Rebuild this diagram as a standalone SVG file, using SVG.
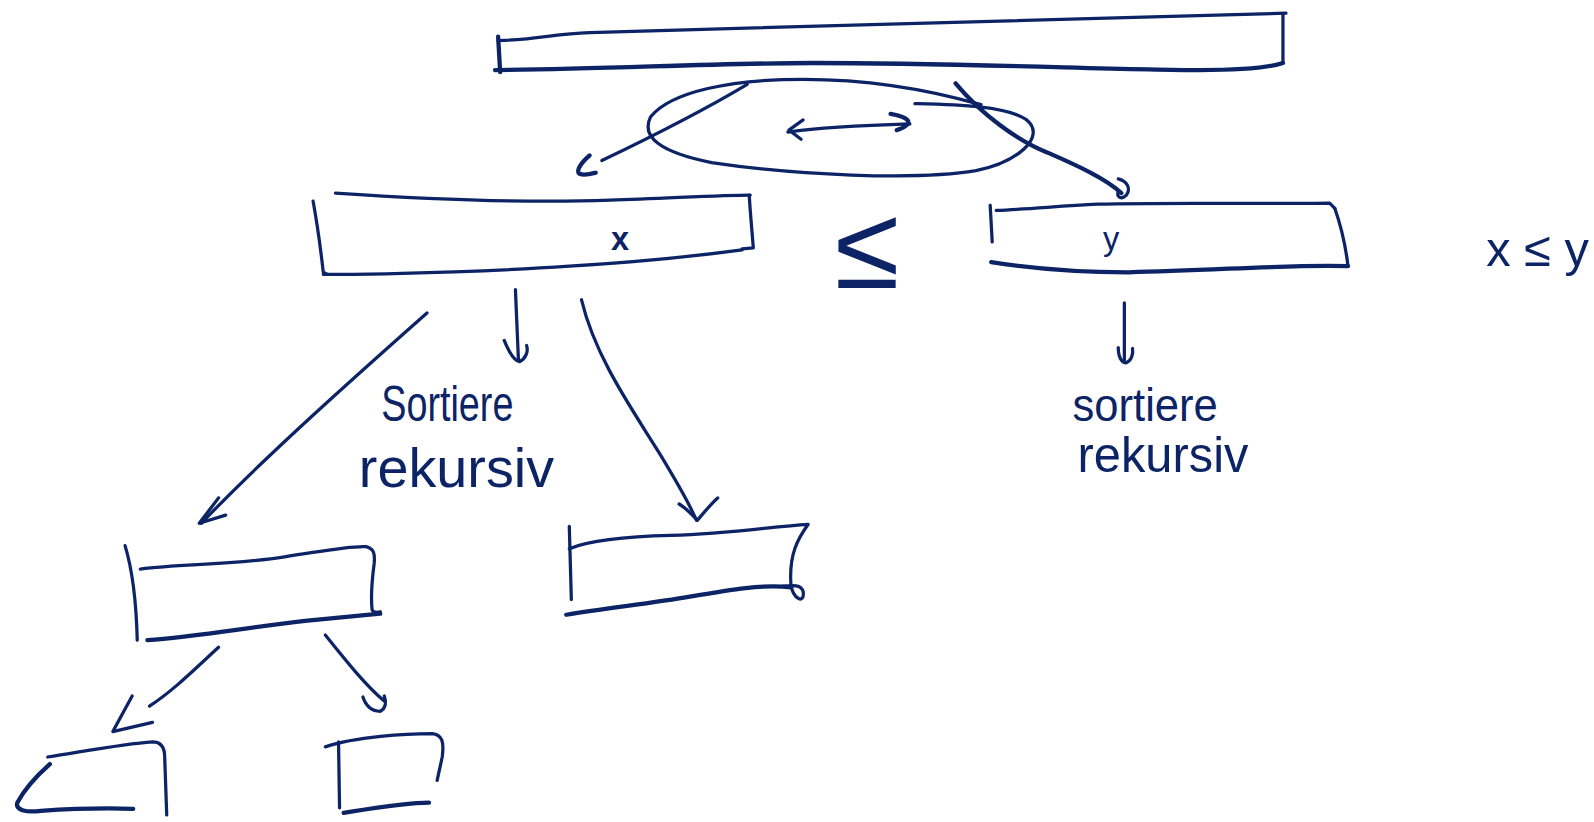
<svg xmlns="http://www.w3.org/2000/svg" width="1594" height="822" viewBox="0 0 1594 822">
<style>
.s{fill:none;stroke:#0c2466;stroke-width:3.2;stroke-linecap:round;stroke-linejoin:round}
.w{stroke-width:4.2}
.t{font-family:"Liberation Sans",Arial,sans-serif;fill:#0c2466}
</style>
<rect width="1594" height="822" fill="#ffffff"/>
<g transform="scale(1.0166,1.0161)">
<g id="array-top">
<path class="s w" d="M490,36 L492,71"/>
<path class="s" d="M490,40 C530,39 545,33 580,32 C700,30 1000,20 1265,13"/>
<path class="s" d="M1262,14 L1262,62"/>
<path class="s w" d="M487,69 C600,68 700,62 800,62 C950,62 1100,69 1180,69 C1230,69 1250,66 1262,62"/>
</g>
<g id="part-x">
<path class="s" d="M308,198 C312,220 316,250 318,268 L322,270"/>
<path class="s" d="M330,190 C420,196 520,200 600,197 C660,195 710,192 738,192"/>
<path class="s" d="M737,192 C738,210 740,230 741,244 L730,245"/>
<path class="s" d="M318,270 C400,270 500,266 560,262 C640,257 700,250 730,246"/>
<text class="t" x="610" y="246" font-size="32" font-weight="bold" text-anchor="middle">x</text>
</g>
<g id="part-y">
<path class="s" d="M974,202 L976,238"/>
<path class="s" d="M980,207 C1010,206 1040,203 1080,201 C1150,199 1250,201 1308,200 L1313,205"/>
<path class="s" d="M1313,205 C1320,225 1324,245 1326,262"/>
<path class="s w" d="M975,258 C1020,265 1060,268 1110,268 C1200,266 1270,260 1326,262"/>
<text class="t" x="1093" y="246" font-size="32" text-anchor="middle">y</text>
</g>
<g id="leq-big">
<text class="t" x="853" y="283" font-size="116" text-anchor="middle">≤</text>
</g>
<g id="note">
<text class="t" x="1462" y="262" font-size="48">x ≤ y</text>
</g>
<g id="label-left">
<text class="t" x="375" y="414" font-size="50" textLength="130" lengthAdjust="spacingAndGlyphs">Sortiere</text>
<text class="t" x="353" y="479" font-size="54" textLength="192" lengthAdjust="spacingAndGlyphs">rekursiv</text>
</g>
<g id="label-right">
<text class="t" x="1055" y="414" font-size="46" textLength="143" lengthAdjust="spacingAndGlyphs">sortiere</text>
<text class="t" x="1060" y="465" font-size="50" textLength="168" lengthAdjust="spacingAndGlyphs">rekursiv</text>
</g>
<g id="part-a">
<path class="s" d="M123,537 C130,560 134,590 135,630"/>
<path class="s" d="M138,560 C180,555 230,556 280,548 C320,542 345,537 360,538 C368,540 369,545 368,555 C366,570 365,590 366,600 C367,603 372,603 374,602"/>
<path class="s w" d="M145,630 C190,627 240,618 300,611 C330,608 355,606 374,604"/>
</g>
<g id="part-b">
<path class="s" d="M560,518 L562,590"/>
<path class="s" d="M560,540 C580,532 620,528 660,527 C720,525 760,518 795,516 C785,530 776,545 778,575 C780,590 792,595 790,582 C788,575 780,576 770,577"/>
<path class="s w" d="M557,605 C600,598 640,594 680,587 C720,580 750,575 778,578"/>
</g>
<g id="part-c">
<path class="s" d="M47,745 C80,740 120,732 150,730 C158,730 162,735 162,745 L164,802"/>
<path class="s w" d="M49,752 C40,760 25,775 17,790 C15,797 25,800 40,798 C70,796 100,795 131,796"/>
</g>
<g id="part-d">
<path class="s" d="M320,735 C350,725 400,722 425,722 C435,723 437,730 435,745 L430,768"/>
<path class="s" d="M333,730 L334,795"/>
<path class="s w" d="M338,800 C370,795 400,790 422,790"/>
</g>
<g id="connectors">
<path class="s" d="M900,102 C940,103 990,104 1010,118 C1030,135 1000,160 960,168 C900,178 780,172 700,160 C650,150 630,135 640,115 C660,90 720,78 790,78 C860,78 920,90 965,103"/>
<path class="s" d="M735,83 C690,110 640,135 592,158"/>
<path class="s w" d="M580,153 C572,160 566,168 570,171 C575,173 582,171 586,170"/>
<path class="s w" d="M940,82 C965,112 1000,138 1030,150 C1060,163 1088,176 1103,190"/>
<path class="s" d="M1100,176 C1108,178 1113,185 1108,192 C1103,197 1098,194 1100,188"/>
<path class="s" d="M775,130 C810,125 860,123 895,122"/>
<path class="s" d="M790,118 L776,128 L788,137"/>
<path class="s w" d="M876,112 C888,114 896,118 893,122 C890,125 886,127 882,128"/>
<path class="s" d="M507,285 L510,355"/>
<path class="s" d="M496,335 C500,345 505,355 511,356 C517,353 520,346 518,340"/>
<path class="s" d="M420,308 C350,370 260,450 198,515"/>
<path class="s" d="M215,490 L196,515 L222,507"/>
<path class="s" d="M572,295 C585,350 620,400 648,445 C668,478 680,500 685,512"/>
<path class="s" d="M668,496 C675,500 682,508 686,512 C692,505 700,495 706,490"/>
<path class="s" d="M215,637 C190,660 170,680 147,695"/>
<path class="s" d="M130,685 L111,720 L150,711"/>
<path class="s" d="M320,625 C340,650 360,675 378,690"/>
<path class="s" d="M357,686 C360,695 366,700 374,700 C380,697 380,690 378,685"/>
<path class="s" d="M1106,298 L1106,355"/>
<path class="s" d="M1100,342 C1100,352 1104,358 1108,357 C1113,355 1115,348 1114,343"/>
</g>
</g>
</svg>
